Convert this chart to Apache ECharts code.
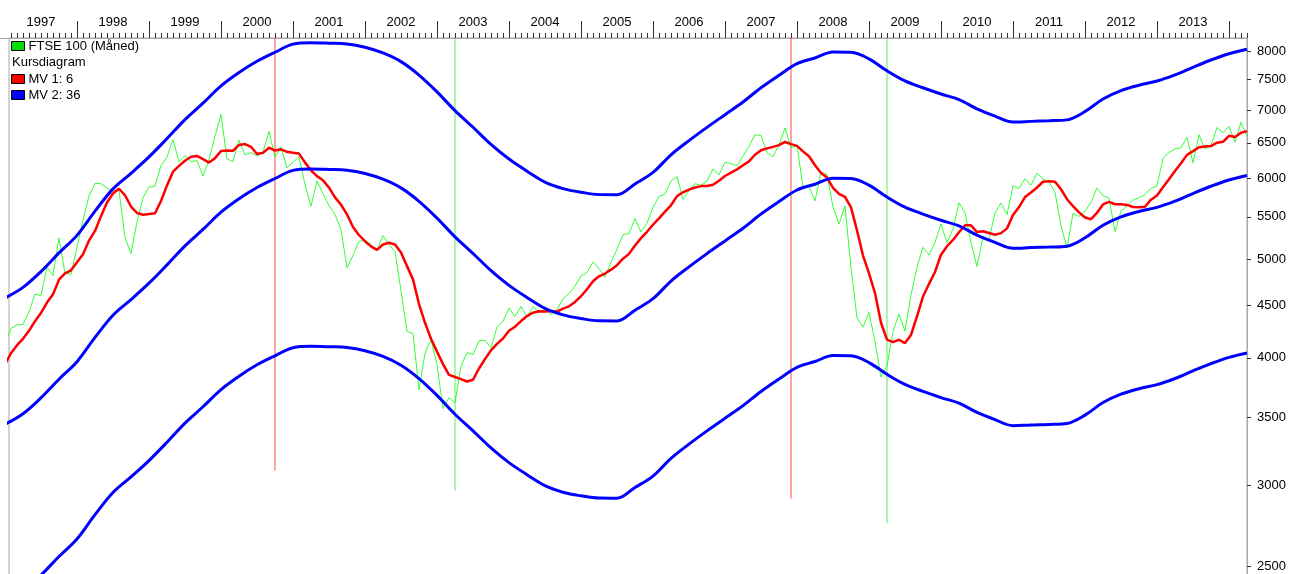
<!DOCTYPE html>
<html>
<head>
<meta charset="utf-8">
<title>FTSE 100 (Måned)</title>
<script src="https://cdn.jsdelivr.net/npm/echarts@6/dist/echarts.min.js"></script>
<style>
  html, body { margin: 0; padding: 0; background: #fff; }
  #chart { width: 1295px; height: 574px; }
</style>
</head>
<body>
<div id="chart"></div>
<script>
// month index 0 = close of Dec 1996, 207 = close of Mar 2014
const years = [1997, 1998, 1999, 2000, 2001, 2002, 2003, 2004, 2005, 2006, 2007, 2008, 2009, 2010, 2011, 2012, 2013]
const yTicks = [2500, 3000, 3500, 4000, 4500, 5000, 5500, 6000, 6500, 7000, 7500, 8000]

// FTSE 100, monthly
const ftse = [4118,
  4275, 4309, 4313, 4437, 4621, 4604, 4907, 4818, 5244, 4843, 4831, 5136,
  5458, 5767, 5932, 5928, 5870, 5833, 5837, 5249, 5064, 5438, 5743, 5883,
  5896, 6175, 6296, 6552, 6226, 6319, 6231, 6246, 6030, 6255, 6597, 6930,
  6269, 6233, 6540, 6327, 6359, 6313, 6365, 6673, 6294, 6438, 6142, 6223,
  6298, 5918, 5634, 5967, 5797, 5643, 5529, 5345, 4903, 5040, 5204, 5217,
  5165, 5101, 5272, 5166, 5086, 4656, 4246, 4227, 3722, 4040, 4169, 3940,
  3567, 3656, 3613, 3926, 4048, 4031, 4157, 4161, 4091, 4288, 4343, 4477,
  4390, 4492, 4386, 4489, 4431, 4464, 4413, 4459, 4571, 4624, 4703, 4814,
  4852, 4968, 4894, 4801, 4964, 5113, 5282, 5297, 5478, 5317, 5423, 5619,
  5760, 5792, 5965, 6023, 5723, 5833, 5928, 5906, 5961, 6129, 6049, 6221,
  6203, 6172, 6308, 6449, 6621, 6608, 6360, 6303, 6467, 6722, 6432, 6457,
  5880, 5884, 5702, 6087, 6053, 5626, 5412, 5637, 4902, 4377, 4288, 4434,
  4150, 3830, 3926, 4244, 4418, 4249, 4608, 4909, 5134, 5045, 5191, 5413,
  5189, 5355, 5680, 5553, 5188, 4917, 5258, 5225, 5549, 5675, 5528, 5900,
  5863, 5994, 5909, 6070, 5990, 5946, 5815, 5395, 5128, 5544, 5505, 5572,
  5682, 5872, 5768, 5738, 5321, 5571, 5635, 5711, 5742, 5783, 5867, 5898,
  6277, 6361, 6412, 6430, 6583, 6215, 6621, 6413, 6462, 6731, 6651, 6749,
  6510, 6810, 6598]

// MV 1: 6, monthly
const mv6 = [3943,
  4042, 4116, 4176, 4252, 4346, 4427, 4532, 4617, 4772, 4840, 4875, 4963,
  5055, 5213, 5328, 5509, 5682, 5798, 5861, 5775, 5630, 5549, 5527, 5536,
  5546, 5700, 5905, 6091, 6171, 6244, 6300, 6312, 6267, 6218, 6280, 6382,
  6388, 6386, 6471, 6483, 6443, 6340, 6356, 6430, 6389, 6407, 6371, 6356,
  6345, 6219, 6109, 6030, 5973, 5876, 5748, 5653, 5531, 5376, 5277, 5206,
  5146, 5105, 5167, 5188, 5168, 5074, 4921, 4776, 4517, 4330, 4177, 4057,
  3944, 3849, 3831, 3812, 3792, 3807, 3905, 3989, 4069, 4129, 4179, 4253,
  4292, 4347, 4396, 4430, 4444, 4442, 4446, 4440, 4471, 4494, 4539, 4597,
  4671, 4755, 4809, 4839, 4882, 4932, 5004, 5059, 5156, 5242, 5318, 5403,
  5482, 5565, 5646, 5764, 5814, 5849, 5877, 5896, 5896, 5913, 5968, 6032,
  6078, 6123, 6180, 6234, 6329, 6394, 6420, 6442, 6468, 6514, 6482, 6457,
  6377, 6307, 6180, 6074, 6011, 5872, 5794, 5753, 5620, 5335, 5040, 4842,
  4631, 4330, 4168, 4145, 4167, 4136, 4213, 4392, 4594, 4727, 4856, 5050,
  5147, 5221, 5312, 5397, 5396, 5314, 5325, 5304, 5282, 5302, 5359, 5523,
  5623, 5752, 5812, 5877, 5954, 5962, 5954, 5854, 5724, 5636, 5556, 5493,
  5471, 5551, 5657, 5690, 5659, 5659, 5651, 5624, 5620, 5627, 5718, 5773,
  5880, 5988, 6100, 6208, 6327, 6380, 6437, 6446, 6454, 6504, 6516, 6605,
  6586, 6652, 6675]

// MV 2: 36 and its bands, read every third month
const mv36 = [3443, 3526, 3655, 3812, 3966, 4189, 4405, 4563, 4735, 4935, 5152, 5346,
  5558, 5729, 5877, 5998, 6109, 6128, 6122, 6112, 6067, 5989, 5872, 5697,
  5485, 5257, 5063, 4871, 4712, 4585, 4473, 4408, 4372, 4349, 4348, 4455,
  4572, 4758, 4913, 5062, 5209, 5360, 5535, 5693, 5844, 5921, 6001, 5998,
  5908, 5752, 5622, 5535, 5458, 5390, 5278, 5192, 5123, 5131, 5138, 5148,
  5246, 5397, 5500, 5568, 5620, 5699, 5798, 5894, 5978, 6038]
const mv36Upper = [4579, 4690, 4861, 5070, 5275, 5571, 5859, 6069, 6298, 6564, 6852, 7110,
  7392, 7620, 7816, 7977, 8125, 8150, 8142, 8129, 8069, 7965, 7810, 7577,
  7295, 6992, 6734, 6478, 6267, 6098, 5949, 5863, 5815, 5784, 5783, 5925,
  6081, 6328, 6534, 6732, 6928, 7129, 7362, 7572, 7773, 7875, 7981, 7977,
  7858, 7650, 7477, 7362, 7259, 7169, 7020, 6905, 6814, 6824, 6834, 6847,
  6977, 7178, 7315, 7405, 7475, 7580, 7711, 7839, 7951, 8031]
const mv36Lower = [2307, 2362, 2449, 2554, 2657, 2807, 2951, 3057, 3172, 3306, 3452, 3582,
  3724, 3838, 3938, 4019, 4093, 4106, 4102, 4095, 4065, 4013, 3934, 3817,
  3675, 3522, 3392, 3264, 3157, 3072, 2997, 2953, 2929, 2914, 2913, 2985,
  3063, 3188, 3292, 3392, 3490, 3591, 3708, 3814, 3915, 3967, 4021, 4019,
  3958, 3854, 3767, 3708, 3657, 3611, 3536, 3479, 3432, 3438, 3442, 3449,
  3515, 3616, 3685, 3731, 3765, 3818, 3885, 3949, 4005, 4045]

// signal lines: month index and where the line stops at the bottom
const sellMonths = [45, 131]
const sellBottoms = [3101, 2911]
const buyMonths = [75, 147]
const buyBottoms = [2964, 2753]

const FONT = 'Liberation Sans, Arial, sans-serif'
const Y_MIN = 2422
const Y_MAX = 8238
const lg = Math.log10

const toPoints = (arr, step) => arr.map((v, i) => [i * step, lg(v)])

const yearStarts = []
for (let i = 1; i <= years.length; i++) yearStarts.push(i * 12)
const yearMids = years.map((y, i) => 6 + i * 12)
const monthTicks = []
for (let m = 1; m <= 207; m++) monthTicks.push(m)

const signalSeries = (months, bottoms, color) => months.map((m, i) => ({
  type: 'line',
  silent: true,
  symbol: 'none',
  z: 1,
  data: [[m, lg(Y_MAX)], [m, lg(bottoms[i])]],
  lineStyle: { color, width: 1 }
}))

const bandSeries = (arr) => ({
  name: 'MV 2: 36', type: 'line', symbol: 'none', z: 4,
  smooth: 0.35,
  data: toPoints(arr, 3),
  itemStyle: { color: '#0000ff' },
  lineStyle: { color: '#0000ff', width: 3 }
})

const chart = echarts.init(document.getElementById('chart'))

chart.setOption({
  animation: false,
  backgroundColor: '#fff',
  textStyle: { fontFamily: FONT },
  grid: {
    left: 9, top: 38, right: 48, height: 542,
    outerBoundsMode: 'none', containLabel: false,
    show: true, borderColor: '#a8a8a8', borderWidth: 1
  },
  legend: [
    {
      data: ['FTSE 100 (Måned)'],
      left: 11, top: 39, orient: 'vertical', padding: 0,
      icon: 'rect', itemWidth: 13, itemHeight: 9, itemGap: 2,
      selectedMode: false,
      itemStyle: { borderColor: '#000', borderWidth: 1 },
      textStyle: { fontSize: 13, color: '#000', fontFamily: FONT, lineHeight: 14, padding: [0, 0, 0, -1] }
    },
    {
      data: ['MV 1: 6', 'MV 2: 36'],
      left: 11, top: 72, orient: 'vertical', padding: 0,
      icon: 'rect', itemWidth: 13, itemHeight: 9, itemGap: 2,
      selectedMode: false,
      itemStyle: { borderColor: '#000', borderWidth: 1 },
      textStyle: { fontSize: 13, color: '#000', fontFamily: FONT, lineHeight: 14, padding: [0, 0, 0, -1] }
    }
  ],
  graphic: [
    {
      type: 'text', left: 12, top: 56, silent: true,
      style: { text: 'Kursdiagram', font: '13px ' + FONT, fill: '#000' }
    },
    {
      type: 'line', silent: true,
      shape: { x1: 0, y1: 38.5, x2: 9, y2: 38.5 },
      style: { stroke: '#a8a8a8', lineWidth: 1 }
    }
  ],
  xAxis: [
    {
      type: 'value', position: 'top', min: 0.667, max: 207,
      axisLine: { show: true, lineStyle: { color: '#a8a8a8', width: 1 } },
      axisTick: { show: true, customValues: yearStarts, length: 17, lineStyle: { color: '#303030', width: 1 } },
      axisLabel: {
        show: true, customValues: yearMids, margin: 9,
        fontSize: 13, color: '#000', fontFamily: FONT,
        formatter: v => String(years[Math.round((v - 6) / 12)])
      },
      splitLine: { show: false }
    },
    {
      type: 'value', position: 'top', min: 0.667, max: 207,
      axisLine: { show: false },
      axisTick: { show: true, customValues: monthTicks, length: 5, lineStyle: { color: '#303030', width: 1 } },
      axisLabel: { show: false },
      splitLine: { show: false }
    }
  ],
  yAxis: {
    type: 'value', position: 'right', min: lg(Y_MIN), max: lg(Y_MAX),
    axisLine: { show: true, lineStyle: { color: '#a8a8a8', width: 1 } },
    axisTick: { show: true, customValues: yTicks.map(lg), length: 4, lineStyle: { color: '#303030' } },
    axisLabel: {
      show: true, customValues: yTicks.map(lg), margin: 10,
      fontSize: 13, color: '#000', fontFamily: FONT,
      formatter: v => String(Math.round(Math.pow(10, v)))
    },
    splitLine: { show: false }
  },
  series: [
    ...signalSeries(sellMonths, sellBottoms, '#ff4848'),
    ...signalSeries(buyMonths, buyBottoms, '#55f055'),
    {
      name: 'FTSE 100 (Måned)', type: 'line', symbol: 'none', z: 2,
      data: toPoints(ftse, 1),
      itemStyle: { color: '#00e000' },
      lineStyle: { color: '#33ff33', width: 1 }
    },
    {
      name: 'MV 1: 6', type: 'line', symbol: 'none', z: 3,
      data: toPoints(mv6, 1),
      itemStyle: { color: '#ff0000' },
      lineStyle: { color: '#ff0000', width: 2.5 }
    },
    bandSeries(mv36),
    bandSeries(mv36Upper),
    bandSeries(mv36Lower)
  ]
})
</script>
</body>
</html>
